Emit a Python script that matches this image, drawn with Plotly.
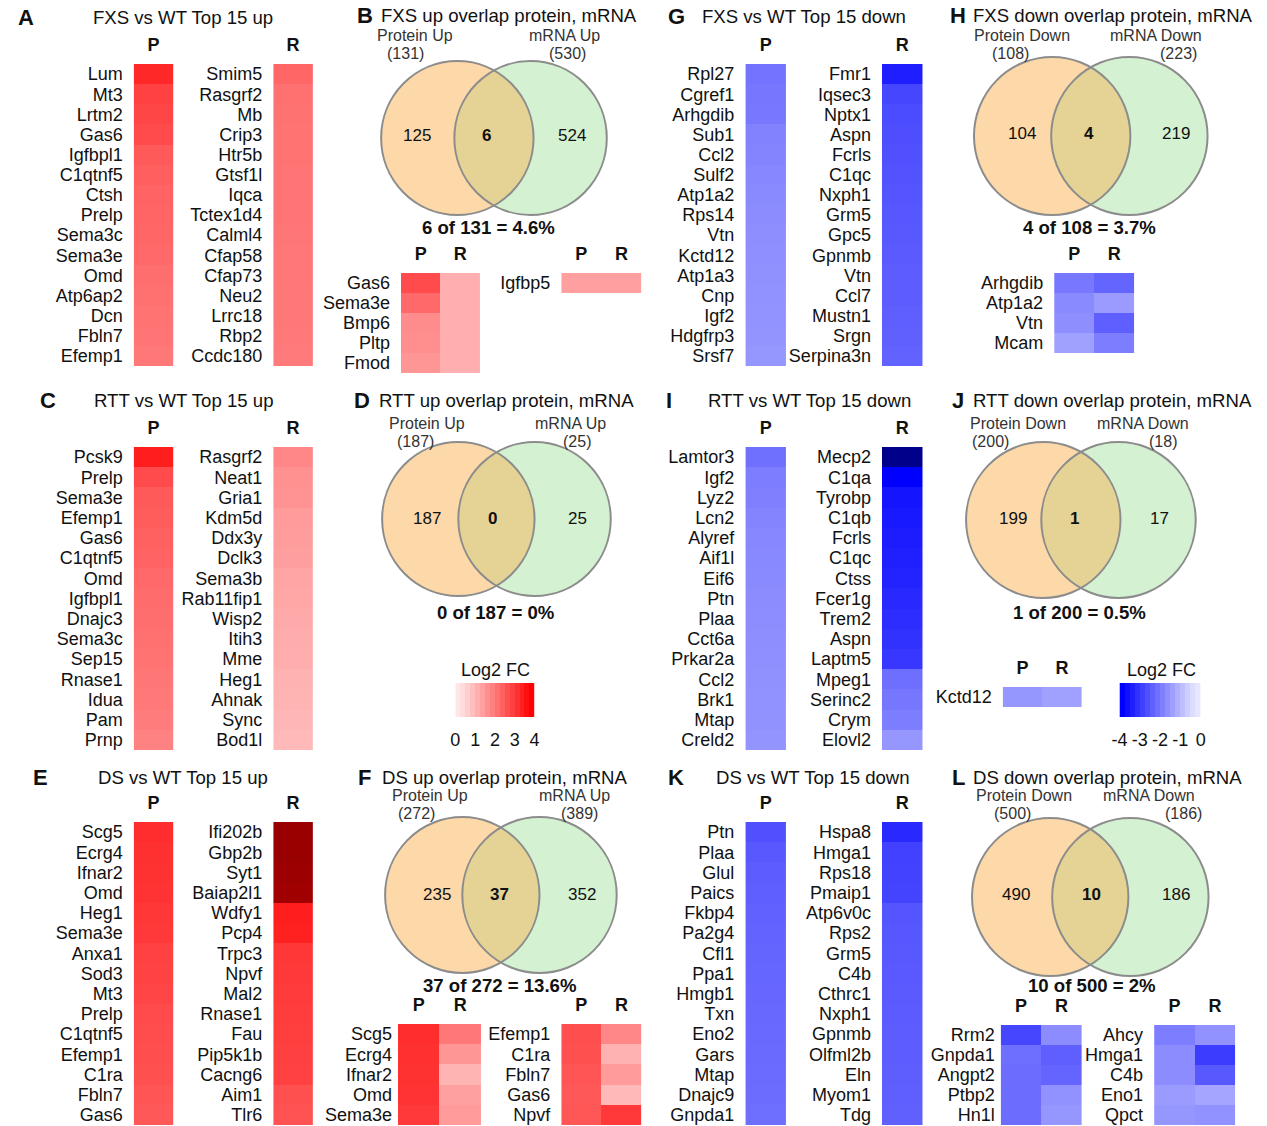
import math
import plotly.graph_objects as go

W, H = 1267, 1126
FONT = "Liberation Sans, Arial, Helvetica, sans-serif"
INK = "#111111"

# ---------------- Top 15 up / down (log2 fold change) ----------------
fxs_up_p_genes = ["Lum", "Mt3", "Lrtm2", "Gas6", "Igfbpl1", "C1qtnf5", "Ctsh", "Prelp",
                  "Sema3c", "Sema3e", "Omd", "Atp6ap2", "Dcn", "Fbln7", "Efemp1"]
fxs_up_p_vals = [3.37, 2.98, 2.90, 2.82, 2.59, 2.51, 2.45, 2.42, 2.38, 2.35, 2.28, 2.25, 2.20, 2.16, 2.12]
fxs_up_r_genes = ["Smim5", "Rasgrf2", "Mb", "Crip3", "Htr5b", "Gtsf1l", "Iqca", "Tctex1d4",
                  "Calml4", "Cfap58", "Cfap73", "Neu2", "Lrrc18", "Rbp2", "Ccdc180"]
fxs_up_r_vals = [2.38, 2.22, 2.21, 2.20, 2.19, 2.18, 2.17, 2.16, 2.15, 2.14, 2.13, 2.12, 2.11, 2.10, 2.09]

rtt_up_p_genes = ["Pcsk9", "Prelp", "Sema3e", "Efemp1", "Gas6", "C1qtnf5", "Omd", "Igfbpl1",
                  "Dnajc3", "Sema3c", "Sep15", "Rnase1", "Idua", "Pam", "Prnp"]
rtt_up_p_vals = [3.53, 2.82, 2.59, 2.55, 2.50, 2.45, 2.35, 2.30, 2.28, 2.25, 2.20, 2.15, 2.10, 2.05, 1.96]
rtt_up_r_genes = ["Rasgrf2", "Neat1", "Gria1", "Kdm5d", "Ddx3y", "Dclk3", "Sema3b", "Rab11fip1",
                  "Wisp2", "Itih3", "Mme", "Heg1", "Ahnak", "Sync", "Bod1l"]
rtt_up_r_vals = [1.88, 1.73, 1.70, 1.57, 1.55, 1.52, 1.41, 1.39, 1.33, 1.30, 1.28, 1.21, 1.18, 1.15, 1.10]

ds_up_p_genes = ["Scg5", "Ecrg4", "Ifnar2", "Omd", "Heg1", "Sema3e", "Anxa1", "Sod3",
                 "Mt3", "Prelp", "C1qtnf5", "Efemp1", "C1ra", "Fbln7", "Gas6"]
ds_up_p_vals = [3.29, 3.25, 3.22, 3.20, 3.14, 3.10, 2.98, 2.95, 2.92, 2.82, 2.80, 2.78, 2.75, 2.67, 2.62]
ds_up_r_genes = ["Ifi202b", "Gbp2b", "Syt1", "Baiap2l1", "Wdfy1", "Pcp4", "Trpc3", "Npvf",
                 "Mal2", "Rnase1", "Fau", "Pip5k1b", "Cacng6", "Aim1", "Tlr6"]
ds_up_r_vals = [5.40, 5.40, 5.35, 5.30, 3.53, 3.50, 3.14, 3.10, 3.08, 3.05, 3.03, 3.00, 2.98, 2.75, 2.72]

fxs_dn_p_genes = ["Rpl27", "Cgref1", "Arhgdib", "Sub1", "Ccl2", "Sulf2", "Atp1a2", "Rps14",
                  "Vtn", "Kctd12", "Atp1a3", "Cnp", "Igf2", "Hdgfrp3", "Srsf7"]
fxs_dn_p_vals = [-2.20, -2.15, -2.12, -1.96, -1.93, -1.88, -1.84, -1.80, -1.78, -1.76, -1.74, -1.72,
                 -1.70, -1.68, -1.65]
fxs_dn_r_genes = ["Fmr1", "Iqsec3", "Nptx1", "Aspn", "Fcrls", "C1qc", "Nxph1", "Grm5",
                  "Gpc5", "Gpnmb", "Vtn", "Ccl7", "Mustn1", "Srgn", "Serpina3n"]
fxs_dn_r_vals = [-3.53, -2.90, -2.82, -2.78, -2.75, -2.71, -2.67, -2.64, -2.62, -2.59, -2.56, -2.54,
                 -2.51, -2.49, -2.46]

rtt_dn_p_genes = ["Lamtor3", "Igf2", "Lyz2", "Lcn2", "Alyref", "Aif1l", "Eif6", "Ptn",
                  "Plaa", "Cct6a", "Prkar2a", "Ccl2", "Brk1", "Mtap", "Creld2"]
rtt_dn_p_vals = [-2.24, -2.04, -1.99, -1.93, -1.88, -1.85, -1.84, -1.80, -1.79, -1.77, -1.76, -1.74,
                 -1.73, -1.71, -1.68]
rtt_dn_r_genes = ["Mecp2", "C1qa", "Tyrobp", "C1qb", "Fcrls", "C1qc", "Ctss", "Fcer1g",
                  "Trem2", "Aspn", "Laptm5", "Mpeg1", "Serinc2", "Crym", "Elovl2"]
rtt_dn_r_vals = [-5.60, -4.00, -3.69, -3.61, -3.56, -3.50, -3.45, -3.37, -3.29, -3.22, -3.14, -2.27,
                 -2.15, -2.04, -1.65]

ds_dn_p_genes = ["Ptn", "Plaa", "Glul", "Paics", "Fkbp4", "Pa2g4", "Cfl1", "Ppa1",
                 "Hmgb1", "Txn", "Eno2", "Gars", "Mtap", "Dnajc9", "Gnpda1"]
ds_dn_p_vals = [-2.75, -2.62, -2.56, -2.51, -2.48, -2.45, -2.43, -2.42, -2.38, -2.37, -2.35, -2.34,
                -2.32, -2.31, -2.27]
ds_dn_r_genes = ["Hspa8", "Hmga1", "Rps18", "Pmaip1", "Atp6v0c", "Rps2", "Grm5", "C4b",
                 "Cthrc1", "Nxph1", "Gpnmb", "Olfml2b", "Eln", "Myom1", "Tdg"]
ds_dn_r_vals = [-3.37, -2.98, -2.95, -2.93, -2.67, -2.64, -2.62, -2.60, -2.59, -2.57, -2.56, -2.54,
                -2.53, -2.51, -2.49]

# ---------------- genes shared by protein and mRNA ----------------
fxs_up_shared_a = ["Gas6", "Sema3e", "Bmp6", "Pltp", "Fmod"]
fxs_up_shared_a_p = [2.82, 2.35, 1.80, 1.78, 1.65]
fxs_up_shared_a_r = [1.25, 1.25, 1.25, 1.25, 1.25]
fxs_up_shared_b = ["Igfbp5"]
fxs_up_shared_b_p = [1.50]
fxs_up_shared_b_r = [1.50]

ds_up_shared_a = ["Scg5", "Ecrg4", "Ifnar2", "Omd", "Sema3e"]
ds_up_shared_a_p = [3.29, 3.25, 3.22, 3.20, 3.10]
ds_up_shared_a_r = [2.12, 1.65, 1.18, 1.49, 1.57]
ds_up_shared_b = ["Efemp1", "C1ra", "Fbln7", "Gas6", "Npvf"]
ds_up_shared_b_p = [2.78, 2.75, 2.67, 2.62, 2.65]
ds_up_shared_b_r = [1.88, 1.21, 1.57, 1.10, 3.10]

fxs_dn_shared = ["Arhgdib", "Atp1a2", "Vtn", "Mcam"]
fxs_dn_shared_p = [-2.12, -1.84, -1.78, -1.49]
fxs_dn_shared_r = [-2.43, -1.57, -2.51, -2.04]

rtt_dn_shared = ["Kctd12"]
rtt_dn_shared_p = [-1.65]
rtt_dn_shared_r = [-1.49]

ds_dn_shared_a = ["Rrm2", "Gnpda1", "Angpt2", "Ptbp2", "Hn1l"]
ds_dn_shared_a_p = [-2.90, -2.27, -2.31, -2.31, -2.31]
ds_dn_shared_a_r = [-1.80, -2.51, -2.43, -1.73, -1.65]
ds_dn_shared_b = ["Ahcy", "Hmga1", "C4b", "Eno1", "Qpct"]
ds_dn_shared_b_p = [-2.04, -1.80, -1.80, -1.57, -1.65]
ds_dn_shared_b_r = [-1.73, -3.06, -2.62, -1.41, -1.73]

# ---------------- overlap counts ----------------
venn_direction = ["Up", "Up", "Up", "Down", "Down", "Down"]
venn_protein_total = [131, 187, 272, 108, 200, 500]
venn_mrna_total = [530, 25, 389, 223, 18, 186]
venn_protein_only = [125, 187, 235, 104, 199, 490]
venn_shared = [6, 0, 37, 4, 1, 10]
venn_mrna_only = [524, 25, 352, 219, 17, 186]

# legend ramps
ramp_up_edges = [0, 0.25, 0.5, 0.75, 1, 1.25, 1.5, 1.75, 2, 2.25, 2.5, 2.75, 3, 3.25, 3.5, 3.75, 4]
ramp_up_vals = [0.4, 0.55, 0.75, 1.0, 1.25, 1.5, 1.75, 2.0, 2.25, 2.5, 2.75, 3.0, 3.25, 3.5, 3.75, 4.0]
ramp_dn_edges = [-4, -3.75, -3.5, -3.25, -3, -2.75, -2.5, -2.25, -2, -1.75, -1.5, -1.25, -1, -0.75,
                 -0.5, -0.25, 0]
ramp_dn_vals = [-4.0, -3.75, -3.5, -3.25, -3.0, -2.75, -2.5, -2.25, -2.0, -1.75, -1.5, -1.25, -1.0,
                -0.75, -0.55, -0.4]

fig = go.Figure()

# full-page axis measured in pixels, used for Venn shapes and free text
fig.add_trace(go.Scatter(x=[0, W], y=[0, H], mode="markers", marker=dict(opacity=0),
                         hoverinfo="skip", showlegend=False, xaxis="x", yaxis="y"))

_axis_no = [1]


def heat(genes, cols, z, x0, y0, x1, y1, caxis, label_gap=10, header_gap=8, show_header=True):
    _axis_no[0] += 1
    k = _axis_no[0]
    fig.add_trace(go.Heatmap(z=z, x=cols, y=genes, coloraxis=caxis, xaxis=f"x{k}", yaxis=f"y{k}",
                             hoverinfo="skip"))
    fig.update_layout({
        f"xaxis{k}": dict(domain=[x0 / W, x1 / W], anchor=f"y{k}", side="top",
                          range=[-0.5, len(cols) - 0.5], showgrid=False, zeroline=False,
                          showline=False, ticks="", showticklabels=show_header,
                          tickmode="array", tickvals=cols, ticktext=cols,
                          ticklabelstandoff=header_gap, fixedrange=True,
                          tickfont=dict(family=FONT, size=18, color=INK, weight="bold")),
        f"yaxis{k}": dict(domain=[1 - y1 / H, 1 - y0 / H], anchor=f"x{k}",
                          range=[len(genes) - 0.5, -0.5], showgrid=False, zeroline=False,
                          showline=False, ticks="", ticklabelstandoff=label_gap, fixedrange=True,
                          tickmode="array", tickvals=genes, ticktext=genes,
                          tickfont=dict(family=FONT, size=18, color=INK)),
    })


def ramp(edges, vals, ticks, ticktext, x0, y0, x1, y1, caxis):
    _axis_no[0] += 1
    k = _axis_no[0]
    fig.add_trace(go.Heatmap(z=[vals], x=edges, y=[0], coloraxis=caxis, xaxis=f"x{k}", yaxis=f"y{k}",
                             hoverinfo="skip"))
    fig.update_layout({
        f"xaxis{k}": dict(domain=[x0 / W, x1 / W], anchor=f"y{k}", side="bottom",
                          range=[edges[0], edges[-1]], showgrid=False, zeroline=False,
                          showline=False, ticks="", tickmode="array", tickvals=ticks,
                          ticktext=ticktext, ticklabelstandoff=10, fixedrange=True,
                          tickfont=dict(family=FONT, size=18, color=INK)),
        f"yaxis{k}": dict(domain=[1 - y1 / H, 1 - y0 / H], anchor=f"x{k}", range=[-0.5, 0.5],
                          visible=False, fixedrange=True),
    })


def col(vals):
    return [[v] for v in vals]


def pair(p, r):
    return [[a, b] for a, b in zip(p, r)]


# --- top-15 columns: left block (up), right block (down)
ROW_TOP = [64, 447, 822]
ROW_BOT = [366, 750, 1125]
up_sets = [(fxs_up_p_genes, fxs_up_p_vals, fxs_up_r_genes, fxs_up_r_vals),
           (rtt_up_p_genes, rtt_up_p_vals, rtt_up_r_genes, rtt_up_r_vals),
           (ds_up_p_genes, ds_up_p_vals, ds_up_r_genes, ds_up_r_vals)]
dn_sets = [(fxs_dn_p_genes, fxs_dn_p_vals, fxs_dn_r_genes, fxs_dn_r_vals),
           (rtt_dn_p_genes, rtt_dn_p_vals, rtt_dn_r_genes, rtt_dn_r_vals),
           (ds_dn_p_genes, ds_dn_p_vals, ds_dn_r_genes, ds_dn_r_vals)]
for i, (pg, pv, rg, rv) in enumerate(up_sets):
    heat(pg, ["P"], col(pv), 127, ROW_TOP[i], 167, ROW_BOT[i], "coloraxis")
    heat(rg, ["R"], col(rv), 268, ROW_TOP[i], 308, ROW_BOT[i], "coloraxis")
for i, (pg, pv, rg, rv) in enumerate(dn_sets):
    heat(pg, ["P"], col(pv), 745, ROW_TOP[i], 786, ROW_BOT[i], "coloraxis2")
    heat(rg, ["R"], col(rv), 883, ROW_TOP[i], 924, ROW_BOT[i], "coloraxis2")

# --- shared-gene blocks under the Venn diagrams
PR = ["P", "R"]
heat(fxs_up_shared_a, PR, pair(fxs_up_shared_a_p, fxs_up_shared_a_r), 397, 273, 477, 373, "coloraxis")
heat(fxs_up_shared_b, PR, pair(fxs_up_shared_b_p, fxs_up_shared_b_r), 559, 273, 640, 293, "coloraxis")
heat(ds_up_shared_a, PR, pair(ds_up_shared_a_p, ds_up_shared_a_r), 394, 1024, 478, 1125, "coloraxis",
     label_gap=5)
heat(ds_up_shared_b, PR, pair(ds_up_shared_b_p, ds_up_shared_b_r), 559, 1024, 640, 1125, "coloraxis")
heat(fxs_dn_shared, PR, pair(fxs_dn_shared_p, fxs_dn_shared_r), 1057, 273, 1138, 353, "coloraxis2")
heat(rtt_dn_shared, PR, pair(rtt_dn_shared_p, rtt_dn_shared_r), 1005, 687, 1085, 707, "coloraxis2")
heat(ds_dn_shared_a, PR, pair(ds_dn_shared_a_p, ds_dn_shared_a_r), 1003, 1025, 1085, 1125, "coloraxis2",
     label_gap=5)
heat(ds_dn_shared_b, PR, pair(ds_dn_shared_b_p, ds_dn_shared_b_r), 1158, 1025, 1240, 1125, "coloraxis2")

# --- colour legends
ramp(ramp_up_edges, ramp_up_vals, [0, 1, 2, 3, 4], ["0", "1", "2", "3", "4"], 452, 683, 532, 717,
     "coloraxis")
ramp(ramp_dn_edges, ramp_dn_vals, [-4, -3, -2, -1, 0], ["-4", "-3", "-2", "-1", "0"], 1123, 683, 1205,
     717, "coloraxis2")


def txt(x, y, s, size=18, bold=False, anchor="center", color=INK):
    fig.add_annotation(x=x, y=y, xref="x", yref="y", text=s, showarrow=False, xanchor=anchor,
                       yanchor="middle", borderpad=0,
                       font=dict(family=FONT, size=size, color=color,
                                 weight="bold" if bold else "normal"))


# --- panel letters and titles
heat_titles = [("A", 18, 17, "FXS vs WT Top 15 up", 177),
               ("C", 40, 400, "RTT vs WT Top 15 up", 177),
               ("E", 33, 777, "DS vs WT Top 15 up", 177),
               ("G", 675, 16, "FXS vs WT Top 15 down", 804),
               ("I", 668, 400, "RTT vs WT Top 15 down", 810),
               ("K", 675, 777, "DS vs WT Top 15 down", 813)]
for letter, lx, y, title, tx in heat_titles:
    txt(lx, y, letter, size=22, bold=True)
    txt(tx, y, title, size=18.6)

venn_letters = ["B", "D", "F", "H", "J", "L"]
venn_titles = ["FXS up overlap protein, mRNA", "RTT up overlap protein, mRNA",
               "DS up overlap protein, mRNA", "FXS down overlap protein, mRNA",
               "RTT down overlap protein, mRNA", "DS down overlap protein, mRNA"]

# Venn geometry and label placement (pixels)
venn_geom = [  # cx_left, cx_right, cy, r
    (454, 528, 138, 77), (455, 532, 519, 77), (459, 537, 895, 78),
    (1055, 1133, 136, 79), (1046, 1122, 520, 78), (1053, 1134, 897, 79)]
venn_title_pos = [(361, 376, 15), (358, 374, 400), (360, 377, 777),
                  (960, 974, 15), (960, 974, 400), (960, 974, 777)]
venn_side_pos = [  # protein label x, protein count x, mRNA label x, mRNA count x, label y
    (411, 402, 562, 565, 35), (423, 412, 568, 575, 423), (426, 413, 572, 577, 795),
    (1025, 1013, 1160, 1183, 35), (1020, 993, 1147, 1167, 423), (1027, 1015, 1153, 1188, 795)]
venn_num_pos = [  # left x, middle x, right x, y
    (413, 483, 570, 135), (423, 490, 575, 518), (433, 497, 580, 894),
    (1025, 1092, 1180, 133), (1015, 1078, 1163, 518), (1018, 1095, 1180, 894)]
venn_sum_pos = [(485, 227), (493, 612), (497, 985), (1093, 227), (1083, 612), (1095, 985)]

ORANGE, GREEN, BOTH, EDGE = "#FDD8A8", "#D4F2D2", "#E5D396", "#8c8c8c"


def lens_path(cxl, cxr, cy, r, steps=48):
    a = (cxr - cxl) / 2.0
    h = math.sqrt(r * r - a * a)
    th = math.atan2(h, a)
    pts = []
    for i in range(steps + 1):
        t = -th + 2 * th * i / steps
        pts.append((cxl + r * math.cos(t), cy + r * math.sin(t)))
    for i in range(steps + 1):
        t = math.pi - th + 2 * th * i / steps
        pts.append((cxr + r * math.cos(t), cy + r * math.sin(t)))
    return "M " + " L ".join(f"{x:.2f},{y:.2f}" for x, y in pts) + " Z"


def pct(a, b):
    return f"{round(100 * a / b, 1):g}%"


for i in range(6):
    cxl, cxr, cy, r = venn_geom[i]
    for cx, fill in ((cxl, ORANGE), (cxr, GREEN)):
        fig.add_shape(type="circle", xref="x", yref="y", x0=cx - r, x1=cx + r, y0=cy - r, y1=cy + r,
                      fillcolor=fill, line=dict(width=0), layer="below")
    fig.add_shape(type="path", xref="x", yref="y", path=lens_path(cxl, cxr, cy, r),
                  fillcolor=BOTH, line=dict(width=0), layer="below")
    for cx in (cxl, cxr):
        fig.add_shape(type="circle", xref="x", yref="y", x0=cx - r, x1=cx + r, y0=cy - r, y1=cy + r,
                      fillcolor="rgba(0,0,0,0)", line=dict(color=EDGE, width=2), layer="below")

    lx, tx, ty = venn_title_pos[i]
    txt(lx, ty, venn_letters[i], size=22, bold=True)
    txt(tx, ty, venn_titles[i], size=18.6, anchor="left")

    px_, pcx, mx, mcx, sy = venn_side_pos[i]
    d = venn_direction[i]
    txt(px_, sy, f"Protein {d}", size=16, color="#333333")
    txt(pcx, sy + 18, f"({venn_protein_total[i]})", size=16, color="#333333")
    txt(mx, sy, f"mRNA {d}", size=16, color="#333333")
    txt(mcx, sy + 18, f"({venn_mrna_total[i]})", size=16, color="#333333")

    nl, nm, nr, ny = venn_num_pos[i]
    txt(nl, ny, str(venn_protein_only[i]), size=17)
    txt(nm, ny, str(venn_shared[i]), size=17, bold=True)
    txt(nr, ny, str(venn_mrna_only[i]), size=17)

    sx, sy2 = venn_sum_pos[i]
    txt(sx, sy2, f"{venn_shared[i]} of {venn_protein_total[i]} = "
                 f"{pct(venn_shared[i], venn_protein_total[i])}", size=18.6, bold=True)

txt(493, 670, "Log2 FC", size=18)
txt(1165, 670, "Log2 FC", size=18)

fig.update_layout(
    width=W, height=H, margin=dict(l=0, r=0, t=0, b=0),
    paper_bgcolor="white", plot_bgcolor="rgba(0,0,0,0)", showlegend=False,
    font=dict(family=FONT, color=INK),
    xaxis=dict(domain=[0, 1], range=[0, W], visible=False, fixedrange=True),
    yaxis=dict(domain=[0, 1], range=[H, 0], visible=False, fixedrange=True),
    coloraxis=dict(cmin=0, cmax=6, showscale=False,
                   colorscale=[[0, "#ffffff"], [4 / 6, "#ff0000"], [1, "#6e0000"]]),
    coloraxis2=dict(cmin=-6, cmax=0, showscale=False,
                    colorscale=[[0, "#00006e"], [2 / 6, "#0000ff"], [1, "#ffffff"]]),
)

fig.write_html("out.html")
